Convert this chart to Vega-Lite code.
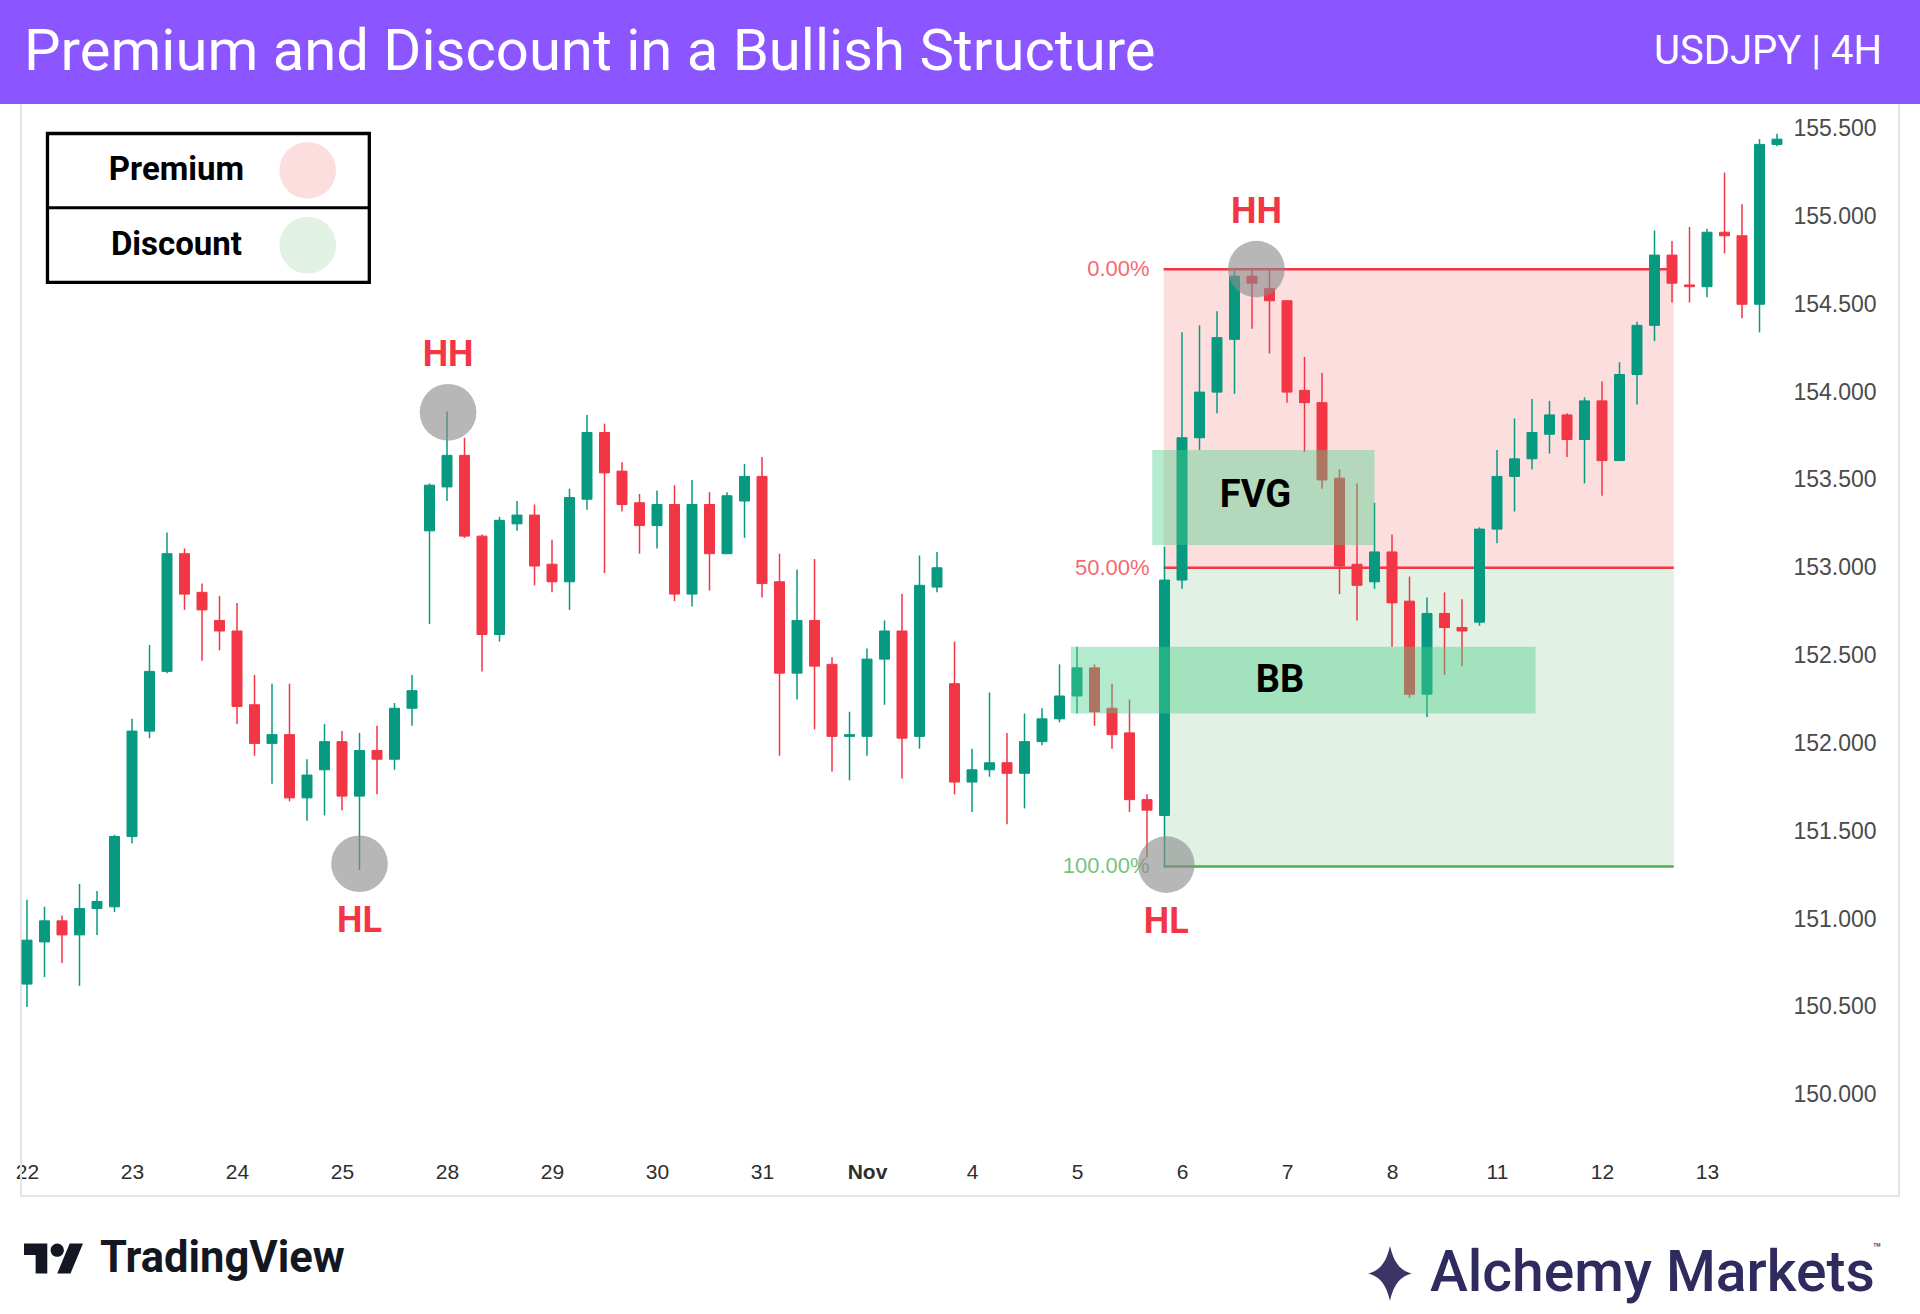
{
  "$schema": "https://vega.github.io/schema/vega-lite/v6.json",
  "width": 1920,
  "height": 1314,
  "autosize": {"type": "none"},
  "padding": 0,
  "background": "#ffffff",
  "config": {"view": {"stroke": null}, "font": "Roboto"},
  "datasets": {
    "candles": [
      {"i":0,"o":150.63,"h":151.11,"l":150.50,"c":150.88},
      {"i":1,"o":150.87,"h":151.07,"l":150.67,"c":150.99},
      {"i":2,"o":150.99,"h":151.02,"l":150.75,"c":150.91},
      {"i":3,"o":150.91,"h":151.20,"l":150.62,"c":151.06},
      {"i":4,"o":151.06,"h":151.16,"l":150.91,"c":151.10},
      {"i":5,"o":151.07,"h":151.48,"l":151.04,"c":151.47},
      {"i":6,"o":151.47,"h":152.14,"l":151.43,"c":152.07},
      {"i":7,"o":152.07,"h":152.56,"l":152.03,"c":152.41},
      {"i":8,"o":152.41,"h":153.20,"l":152.40,"c":153.08},
      {"i":9,"o":153.08,"h":153.11,"l":152.76,"c":152.85},
      {"i":10,"o":152.86,"h":152.91,"l":152.47,"c":152.76},
      {"i":11,"o":152.70,"h":152.84,"l":152.53,"c":152.64},
      {"i":12,"o":152.64,"h":152.80,"l":152.11,"c":152.21},
      {"i":13,"o":152.22,"h":152.39,"l":151.93,"c":152.00},
      {"i":14,"o":152.00,"h":152.34,"l":151.77,"c":152.05},
      {"i":15,"o":152.05,"h":152.34,"l":151.67,"c":151.69},
      {"i":16,"o":151.69,"h":151.91,"l":151.56,"c":151.82},
      {"i":17,"o":151.85,"h":152.11,"l":151.59,"c":152.01},
      {"i":18,"o":152.01,"h":152.07,"l":151.62,"c":151.70},
      {"i":19,"o":151.70,"h":152.06,"l":151.28,"c":151.96},
      {"i":20,"o":151.96,"h":152.10,"l":151.71,"c":151.91},
      {"i":21,"o":151.91,"h":152.23,"l":151.85,"c":152.20},
      {"i":22,"o":152.20,"h":152.39,"l":152.10,"c":152.30},
      {"i":23,"o":153.21,"h":153.48,"l":152.68,"c":153.47},
      {"i":24,"o":153.46,"h":153.89,"l":153.38,"c":153.64},
      {"i":25,"o":153.64,"h":153.74,"l":153.17,"c":153.18},
      {"i":26,"o":153.18,"h":153.19,"l":152.41,"c":152.62},
      {"i":27,"o":152.62,"h":153.29,"l":152.58,"c":153.27},
      {"i":28,"o":153.25,"h":153.38,"l":153.21,"c":153.30},
      {"i":29,"o":153.30,"h":153.36,"l":152.90,"c":153.01},
      {"i":30,"o":153.02,"h":153.16,"l":152.86,"c":152.92},
      {"i":31,"o":152.92,"h":153.45,"l":152.76,"c":153.40},
      {"i":32,"o":153.39,"h":153.87,"l":153.33,"c":153.77},
      {"i":33,"o":153.77,"h":153.82,"l":152.97,"c":153.54},
      {"i":34,"o":153.55,"h":153.60,"l":153.32,"c":153.36},
      {"i":35,"o":153.37,"h":153.42,"l":153.08,"c":153.24},
      {"i":36,"o":153.24,"h":153.44,"l":153.11,"c":153.36},
      {"i":37,"o":153.36,"h":153.47,"l":152.81,"c":152.85},
      {"i":38,"o":152.85,"h":153.50,"l":152.78,"c":153.36},
      {"i":39,"o":153.36,"h":153.43,"l":152.87,"c":153.08},
      {"i":40,"o":153.08,"h":153.43,"l":153.08,"c":153.41},
      {"i":41,"o":153.38,"h":153.59,"l":153.17,"c":153.52},
      {"i":42,"o":153.52,"h":153.63,"l":152.83,"c":152.91},
      {"i":43,"o":152.92,"h":153.08,"l":151.93,"c":152.40},
      {"i":44,"o":152.40,"h":152.99,"l":152.25,"c":152.70},
      {"i":45,"o":152.70,"h":153.05,"l":152.08,"c":152.44},
      {"i":46,"o":152.45,"h":152.49,"l":151.84,"c":152.04},
      {"i":47,"o":152.04,"h":152.18,"l":151.79,"c":152.05},
      {"i":48,"o":152.04,"h":152.54,"l":151.93,"c":152.48},
      {"i":49,"o":152.48,"h":152.70,"l":152.22,"c":152.64},
      {"i":50,"o":152.64,"h":152.85,"l":151.80,"c":152.03},
      {"i":51,"o":152.04,"h":153.07,"l":151.97,"c":152.90},
      {"i":52,"o":152.89,"h":153.09,"l":152.86,"c":153.00},
      {"i":53,"o":152.34,"h":152.58,"l":151.71,"c":151.78},
      {"i":54,"o":151.78,"h":151.97,"l":151.61,"c":151.85},
      {"i":55,"o":151.85,"h":152.29,"l":151.81,"c":151.89},
      {"i":56,"o":151.89,"h":152.06,"l":151.54,"c":151.83},
      {"i":57,"o":151.83,"h":152.17,"l":151.63,"c":152.01},
      {"i":58,"o":152.01,"h":152.20,"l":151.99,"c":152.14},
      {"i":59,"o":152.14,"h":152.45,"l":152.12,"c":152.27},
      {"i":60,"o":152.27,"h":152.55,"l":152.17,"c":152.43},
      {"i":61,"o":152.43,"h":152.45,"l":152.10,"c":152.18},
      {"i":62,"o":152.20,"h":152.34,"l":151.97,"c":152.05},
      {"i":63,"o":152.06,"h":152.25,"l":151.61,"c":151.68},
      {"i":64,"o":151.68,"h":151.71,"l":151.35,"c":151.62},
      {"i":65,"o":151.59,"h":153.12,"l":151.30,"c":152.93},
      {"i":66,"o":152.93,"h":154.34,"l":152.88,"c":153.74},
      {"i":67,"o":153.74,"h":154.38,"l":153.67,"c":154.00},
      {"i":68,"o":154.00,"h":154.46,"l":153.88,"c":154.31},
      {"i":69,"o":154.30,"h":154.69,"l":153.99,"c":154.66},
      {"i":70,"o":154.66,"h":154.70,"l":154.36,"c":154.62},
      {"i":71,"o":154.59,"h":154.70,"l":154.22,"c":154.52},
      {"i":72,"o":154.52,"h":154.52,"l":153.94,"c":154.00},
      {"i":73,"o":154.01,"h":154.20,"l":153.66,"c":153.94},
      {"i":74,"o":153.94,"h":154.11,"l":153.45,"c":153.50},
      {"i":75,"o":153.51,"h":153.56,"l":152.85,"c":153.01},
      {"i":76,"o":153.02,"h":153.48,"l":152.70,"c":152.90},
      {"i":77,"o":152.92,"h":153.37,"l":152.88,"c":153.09},
      {"i":78,"o":153.09,"h":153.19,"l":152.55,"c":152.80},
      {"i":79,"o":152.81,"h":152.95,"l":152.26,"c":152.28},
      {"i":80,"o":152.28,"h":152.83,"l":152.15,"c":152.74},
      {"i":81,"o":152.74,"h":152.86,"l":152.39,"c":152.66},
      {"i":82,"o":152.66,"h":152.82,"l":152.44,"c":152.64},
      {"i":83,"o":152.69,"h":153.23,"l":152.67,"c":153.22},
      {"i":84,"o":153.22,"h":153.67,"l":153.14,"c":153.52},
      {"i":85,"o":153.52,"h":153.85,"l":153.32,"c":153.62},
      {"i":86,"o":153.62,"h":153.96,"l":153.56,"c":153.77},
      {"i":87,"o":153.76,"h":153.95,"l":153.65,"c":153.87},
      {"i":88,"o":153.87,"h":153.88,"l":153.63,"c":153.73},
      {"i":89,"o":153.73,"h":153.97,"l":153.48,"c":153.95},
      {"i":90,"o":153.95,"h":154.06,"l":153.41,"c":153.61},
      {"i":91,"o":153.61,"h":154.17,"l":153.61,"c":154.10},
      {"i":92,"o":154.10,"h":154.40,"l":153.93,"c":154.38},
      {"i":93,"o":154.38,"h":154.92,"l":154.29,"c":154.78},
      {"i":94,"o":154.78,"h":154.86,"l":154.51,"c":154.62},
      {"i":95,"o":154.61,"h":154.94,"l":154.51,"c":154.60},
      {"i":96,"o":154.60,"h":154.93,"l":154.54,"c":154.91},
      {"i":97,"o":154.91,"h":155.25,"l":154.79,"c":154.89},
      {"i":98,"o":154.89,"h":155.07,"l":154.42,"c":154.50},
      {"i":99,"o":154.50,"h":155.44,"l":154.34,"c":155.41},
      {"i":100,"o":155.41,"h":155.47,"l":155.40,"c":155.44}
    ],
    "zones": [
      {"zone":"Premium","i0":64.95,"i1":94.1,"lo":153.0,"hi":154.7},
      {"zone":"Discount","i0":64.95,"i1":94.1,"lo":151.3,"hi":153.0}
    ],
    "fib": [
      {"level":"0.00%","i0":64.95,"i1":94.1,"p":154.7},
      {"level":"50.00%","i0":64.95,"i1":94.1,"p":153.0},
      {"level":"100.00%","i0":64.95,"i1":94.1,"p":151.3}
    ],
    "boxes": [
      {"name":"FVG","i0":64.3,"i1":77.0,"lo":153.13,"hi":153.67,"li":70.2,"lp":153.41},
      {"name":"BB","i0":59.65,"i1":86.2,"lo":152.17,"hi":152.55,"li":71.6,"lp":152.355}
    ],
    "swings": [
      {"label":"HH","i":24.06,"p":153.885},
      {"label":"HL","i":19.0,"p":151.315},
      {"label":"HH","i":70.25,"p":154.70},
      {"label":"HL","i":65.1,"p":151.31}
    ]
  },
  "layer": [
    {
      "data": {"values": [{}]},
      "mark": {"type": "rect", "fill": "transparent", "stroke": "#e4e4e4", "strokeWidth": 2},
      "encoding": {
        "x": {"datum": -0.343, "type": "quantitative"},
        "x2": {"datum": 106.97},
        "y": {"datum": 149.424, "type": "quantitative"},
        "y2": {"datum": 155.66}
      }
    },
    {
      "data": {"name": "zones"},
      "mark": {"type": "rect"},
      "encoding": {
        "x": {"field": "i0", "type": "quantitative", "title": null},
        "x2": {"field": "i1"},
        "y": {"field": "lo", "type": "quantitative", "title": null},
        "y2": {"field": "hi"},
        "color": {"field": "zone", "type": "nominal", "scale": {"domain": ["Premium", "Discount"], "range": ["#fddede", "#e1f2e4"]}, "legend": null}
      }
    },
    {
      "data": {"name": "fib"},
      "mark": {"type": "rule", "strokeWidth": 2.5},
      "encoding": {
        "x": {"field": "i0", "type": "quantitative", "title": null},
        "x2": {"field": "i1"},
        "y": {"field": "p", "type": "quantitative", "title": null},
        "color": {"condition": {"test": "datum.level == '100.00%'", "value": "#4caf50"}, "value": "#f23645"}
      }
    },
    {
      "data": {"name": "fib"},
      "mark": {"type": "text", "align": "right", "baseline": "middle", "dx": -14, "font": "Liberation Sans", "fontSize": 22, "opacity": 0.75},
      "encoding": {
        "x": {"field": "i0", "type": "quantitative", "title": null},
        "y": {"field": "p", "type": "quantitative", "title": null},
        "text": {"field": "level"},
        "color": {"condition": {"test": "datum.level == '100.00%'", "value": "#4caf50"}, "value": "#f23645"}
      }
    },
    {
      "data": {"name": "candles"},
      "mark": {"type": "rule", "strokeWidth": 1.5},
      "encoding": {
        "x": {"field": "i", "type": "quantitative", "title": null},
        "y": {"field": "l", "type": "quantitative", "title": null},
        "y2": {"field": "h"},
        "color": {"condition": {"test": "datum.c >= datum.o", "value": "#089981"}, "value": "#f23645"}
      }
    },
    {
      "data": {"name": "candles"},
      "mark": {"type": "bar", "size": 10, "strokeWidth": 1},
      "encoding": {
        "x": {
          "field": "i", "type": "quantitative", "title": null,
          "scale": {"domain": [-1.543, 108.171], "nice": false, "zero": false, "padding": 0},
          "axis": {
            "orient": "bottom", "offset": -142, "values": [0,6,12,18,24,30,36,42,48,54,60,66,72,78,84,90,96],
            "labelExpr": "['22','23','24','25','28','29','30','31','Nov','4','5','6','7','8','11','12','13'][round(datum.value/6)]",
            "domain": false, "ticks": false, "tickSize": 0, "grid": false, "labelPadding": 0,
            "labelBaseline": "middle", "labelFlush": false, "labelOverlap": false,
            "labelFont": "Liberation Sans", "labelFontSize": 21, "labelColor": "#2e2e2e",
            "labelFontWeight": {"condition": {"test": "datum.value == 48", "value": "bold"}, "value": "normal"}
          }
        },
        "y": {
          "field": "o", "type": "quantitative", "title": null,
          "scale": {"domain": [148.7518, 156.2321], "nice": false, "zero": false},
          "axis": {
            "orient": "right", "offset": -127, "values": [150,150.5,151,151.5,152,152.5,153,153.5,154,154.5,155,155.5],
            "format": ".3f", "domain": false, "ticks": false, "tickSize": 0, "grid": false, "labelPadding": 0,
            "labelAlign": "left", "labelBaseline": "middle", "labelFlush": false, "labelOverlap": false,
            "labelFont": "Liberation Sans", "labelFontSize": 23, "labelColor": "#4a4a4a"
          }
        },
        "y2": {"field": "c"},
        "color": {"condition": {"test": "datum.c >= datum.o", "value": "#089981"}, "value": "#f23645"},
        "stroke": {"condition": {"test": "datum.c >= datum.o", "value": "#089981"}, "value": "#f23645"}
      }
    },
    {
      "data": {"name": "boxes"},
      "mark": {"type": "rect", "fill": "#4cd08a", "opacity": 0.42},
      "encoding": {
        "x": {"field": "i0", "type": "quantitative", "title": null},
        "x2": {"field": "i1"},
        "y": {"field": "lo", "type": "quantitative", "title": null},
        "y2": {"field": "hi"}
      }
    },
    {
      "data": {"name": "boxes"},
      "mark": {"type": "text", "align": "center", "baseline": "middle", "fontSize": 38, "fontWeight": "bold", "color": "#000000"},
      "encoding": {
        "x": {"field": "li", "type": "quantitative", "title": null},
        "y": {"field": "lp", "type": "quantitative", "title": null},
        "text": {"field": "name"}
      }
    },
    {
      "data": {"name": "swings"},
      "mark": {"type": "point", "shape": "circle", "filled": true, "size": 3217, "color": "#8a8a8a", "opacity": 0.62, "strokeWidth": 0},
      "encoding": {
        "x": {"field": "i", "type": "quantitative", "title": null},
        "y": {"field": "p", "type": "quantitative", "title": null}
      }
    },
    {
      "data": {"name": "swings"},
      "transform": [{"filter": "datum.label == 'HH'"}],
      "mark": {"type": "text", "align": "center", "baseline": "middle", "dy": -57, "fontSize": 36, "fontWeight": "bold", "color": "#f23645"},
      "encoding": {
        "x": {"field": "i", "type": "quantitative", "title": null},
        "y": {"field": "p", "type": "quantitative", "title": null},
        "text": {"field": "label"}
      }
    },
    {
      "data": {"name": "swings"},
      "transform": [{"filter": "datum.label == 'HL'"}],
      "mark": {"type": "text", "align": "center", "baseline": "middle", "dy": 57, "fontSize": 36, "fontWeight": "bold", "color": "#f23645"},
      "encoding": {
        "x": {"field": "i", "type": "quantitative", "title": null},
        "y": {"field": "p", "type": "quantitative", "title": null},
        "text": {"field": "label"}
      }
    },
    {
      "data": {"values": [{}]},
      "mark": {"type": "rect", "fill": "#ffffff", "stroke": "#000000", "strokeWidth": 3.3},
      "encoding": {
        "x": {"datum": 1.17, "type": "quantitative"},
        "x2": {"datum": 19.56},
        "y": {"datum": 154.625, "type": "quantitative"},
        "y2": {"datum": 155.472}
      }
    },
    {
      "data": {"values": [{}]},
      "mark": {"type": "rule", "stroke": "#000000", "strokeWidth": 3},
      "encoding": {
        "x": {"datum": 1.17, "type": "quantitative"},
        "x2": {"datum": 19.56},
        "y": {"datum": 155.050, "type": "quantitative"}
      }
    },
    {
      "data": {"values": [{"zone": "Premium"}]},
      "mark": {"type": "text", "align": "center", "baseline": "middle", "fontSize": 33, "fontWeight": "bold", "color": "#000000"},
      "encoding": {
        "x": {"datum": 8.54, "type": "quantitative"},
        "y": {"datum": 155.262, "type": "quantitative"},
        "text": {"field": "zone"}
      }
    },
    {
      "data": {"values": [{"zone": "Discount"}]},
      "mark": {"type": "text", "align": "center", "baseline": "middle", "fontSize": 33, "fontWeight": "bold", "color": "#000000"},
      "encoding": {
        "x": {"datum": 8.54, "type": "quantitative"},
        "y": {"datum": 154.836, "type": "quantitative"},
        "text": {"field": "zone"}
      }
    },
    {
      "data": {"values": [{"zone": "Premium"}]},
      "mark": {"type": "point", "shape": "circle", "filled": true, "size": 3217, "color": "#fddede", "opacity": 1},
      "encoding": {
        "x": {"datum": 16.04, "type": "quantitative"},
        "y": {"datum": 155.262, "type": "quantitative"}
      }
    },
    {
      "data": {"values": [{"zone": "Discount"}]},
      "mark": {"type": "point", "shape": "circle", "filled": true, "size": 3217, "color": "#e1f2e4", "opacity": 1},
      "encoding": {
        "x": {"datum": 16.04, "type": "quantitative"},
        "y": {"datum": 154.836, "type": "quantitative"}
      }
    },
    {
      "data": {"values": [{}]},
      "mark": {"type": "rect", "fill": "#8b55ff"},
      "encoding": {
        "x": {"datum": -2, "type": "quantitative"},
        "x2": {"datum": 109},
        "y": {"datum": 155.6395, "type": "quantitative"},
        "y2": {"datum": 156.4}
      }
    },
    {
      "data": {"values": [{}]},
      "mark": {"type": "text", "text": "Premium and Discount in a Bullish Structure", "align": "left", "baseline": "middle", "fontSize": 58, "color": "#ffffff"},
      "encoding": {
        "x": {"datum": -0.171, "type": "quantitative"},
        "y": {"datum": 155.93, "type": "quantitative"}
      }
    },
    {
      "data": {"values": [{}]},
      "mark": {"type": "text", "text": "USDJPY | 4H", "align": "right", "baseline": "middle", "fontSize": 40, "color": "#ffffff"},
      "encoding": {
        "x": {"datum": 106.0, "type": "quantitative"},
        "y": {"datum": 155.935, "type": "quantitative"}
      }
    },
    {
      "data": {"values": [{}]},
      "mark": {"type": "point", "filled": true, "size": 3481, "color": "#131722", "opacity": 1, "strokeWidth": 0,
        "shape": "M-0.211,0.507 L-0.606,0.507 L-0.606,-0.113 L-1,-0.113 L-1,-0.507 L-0.211,-0.507 Z M0.577,0.507 L0.127,0.507 L0.549,-0.507 L1,-0.507 Z M-0.098,-0.282 A0.225,0.225 0 1,0 0.352,-0.282 A0.225,0.225 0 1,0 -0.098,-0.282 Z"},
      "encoding": {
        "x": {"datum": 1.514, "type": "quantitative"},
        "y": {"datum": 149.068, "type": "quantitative"}
      }
    },
    {
      "data": {"values": [{}]},
      "mark": {"type": "text", "text": "TradingView", "align": "left", "baseline": "middle", "fontSize": 43.5, "fontWeight": "bold", "color": "#131722"},
      "encoding": {
        "x": {"datum": 4.171, "type": "quantitative"},
        "y": {"datum": 149.065, "type": "quantitative"}
      }
    },
    {
      "data": {"values": [{}]},
      "mark": {"type": "point", "filled": true, "size": 3025, "color": "#3b3566", "opacity": 1, "strokeWidth": 0,
        "shape": "M0,-1 C0.15,-0.35 0.4,-0.1 0.8,0 C0.4,0.1 0.15,0.35 0,1 C-0.15,0.35 -0.4,0.1 -0.8,0 C-0.4,-0.1 -0.15,-0.35 0,-1 Z"},
      "encoding": {
        "x": {"datum": 77.886, "type": "quantitative"},
        "y": {"datum": 148.982, "type": "quantitative"}
      }
    },
    {
      "data": {"values": [{}]},
      "mark": {"type": "text", "text": "Alchemy Markets", "align": "left", "baseline": "middle", "fontSize": 57, "fontWeight": 500, "color": "#2f2b5e"},
      "encoding": {
        "x": {"datum": 80.17, "type": "quantitative"},
        "y": {"datum": 148.982, "type": "quantitative"}
      }
    },
    {
      "data": {"values": [{}]},
      "mark": {"type": "text", "text": "™", "align": "center", "baseline": "middle", "fontSize": 14, "color": "#2f2b5e"},
      "encoding": {
        "x": {"datum": 105.71, "type": "quantitative"},
        "y": {"datum": 149.12, "type": "quantitative"}
      }
    }
  ]
}
